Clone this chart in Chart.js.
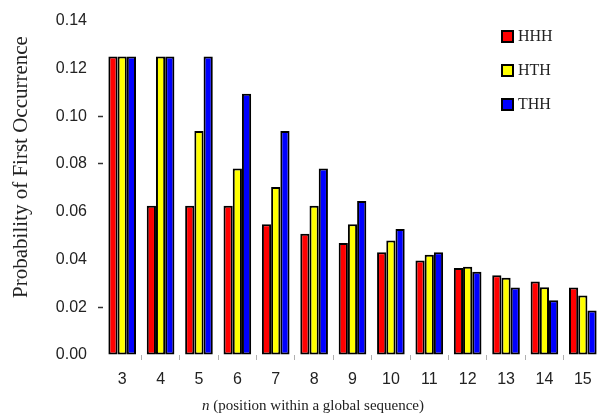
<!DOCTYPE html>
<html>
<head>
<meta charset="utf-8">
<script src="https://cdn.jsdelivr.net/npm/chart.js@4"></script>
<style>
  html, body { margin: 0; padding: 0; background: #fff; overflow: hidden; }
  #wrap { position: relative; width: 602px; height: 419px; }
</style>
</head>
<body>
<div id="wrap"><canvas id="firstChart"></canvas></div>
<script>
// Categories (n) and probabilities
const positions = ['3', '4', '5', '6', '7', '8', '9', '10', '11', '12', '13', '14', '15'];
const hhh = [0.125, 0.0625, 0.0625, 0.0625, 0.0547, 0.0508, 0.0469, 0.0430, 0.0396, 0.0364, 0.0334, 0.0308, 0.0283];
const hth = [0.125, 0.125, 0.0938, 0.0781, 0.0703, 0.0625, 0.0547, 0.0479, 0.0420, 0.0369, 0.0323, 0.0284, 0.0249];
const thh = [0.125, 0.125, 0.125, 0.1094, 0.0938, 0.0781, 0.0645, 0.0527, 0.0430, 0.0349, 0.0283, 0.0229, 0.0186];
const seriesNames = ['HHH', 'HTH', 'THH'];
const yTicks = [0, 0.02, 0.04, 0.06, 0.08, 0.10, 0.12, 0.14];
const yTitle = 'Probability of First Occurrence';
const xTitleVar = 'n';
const xTitleRest = ' (position within a global sequence)';

const colors = ['#ff0000', '#ffff00', '#0000ff'];
const dashed = [0.02, 0.08, 0.10]; // y tick dashes visible in the original

// Titles + legend drawn by hand (italic "n", off-centre placement)
const extras = {
  id: 'extras',
  afterDraw(chart) {
    const c = chart.ctx;
    c.save();
    c.fillStyle = '#222';
    c.textBaseline = 'middle';

    // y title
    c.save();
    c.translate(21, 167);
    c.rotate(-Math.PI / 2);
    c.font = '21px "Liberation Serif", "Times New Roman", serif';
    c.textAlign = 'center';
    c.fillText(yTitle, 0, 0);
    c.restore();

    // x title with italic n
    const fItal = 'italic 15px "Liberation Serif", serif';
    const fReg = '15px "Liberation Serif", serif';
    c.font = fItal;
    const w1 = c.measureText(xTitleVar).width;
    c.font = fReg;
    const w2 = c.measureText(xTitleRest).width;
    let x = 313 - (w1 + w2) / 2;
    c.textAlign = 'left';
    c.font = fItal;
    c.fillText(xTitleVar, x, 406);
    c.font = fReg;
    c.fillText(xTitleRest, x + w1, 406);

    // legend
    chart.data.datasets.forEach((ds, i) => {
      const y = 37 + i * 34;
      c.fillStyle = ds.backgroundColor;
      c.fillRect(502, y - 6, 11, 11);
      c.strokeStyle = '#000';
      c.lineWidth = 2;
      c.strokeRect(502, y - 6, 11, 11);
      c.fillStyle = '#222';
      c.font = '16px "Liberation Serif", serif';
      c.fillText(ds.label, 518, y);
    });
    c.restore();
  }
};

const ctx = document.getElementById('firstChart').getContext('2d');
new Chart(ctx, {
  type: 'bar',
  data: {
    labels: positions,
    datasets: [hhh, hth, thh].map((vals, i) => ({
      label: seriesNames[i],
      data: vals,
      backgroundColor: colors[i],
      borderColor: '#000',
      borderWidth: 2,
      borderSkipped: false,
      barPercentage: 1,
      categoryPercentage: 0.72
    }))
  },
  options: {
    responsive: true,
    maintainAspectRatio: false,
    animation: false,
    layout: { padding: { top: 14, left: 0, right: 0, bottom: 0 } },
    plugins: {
      legend: { display: false },
      tooltip: { enabled: false }
    },
    scales: {
      x: {
        afterFit(scale) { scale.height = 64; },
        border: { display: false },
        grid: {
          offset: true,
          drawOnChartArea: false,
          drawTicks: true,
          tickLength: 5,
          tickWidth: 1,
          tickColor: c => (c.index > 0 && c.index < positions.length) ? '#b0b0b0' : 'rgba(0,0,0,0)'
        },
        ticks: {
          padding: 10,
          color: '#222',
          font: { family: '"Liberation Sans", Arial, sans-serif', size: 16 },
          maxRotation: 0
        }
      },
      y: {
        min: 0,
        max: 0.14,
        afterFit(scale) { scale.width = 103; },
        afterBuildTicks(scale) { scale.ticks = yTicks.map(v => ({ value: v })); },
        border: { display: false },
        grid: {
          drawOnChartArea: false,
          drawTicks: true,
          tickLength: 5,
          tickWidth: 1.5,
          tickColor: c => (c.tick && dashed.some(d => Math.abs(d - c.tick.value) < 1e-6)) ? '#333' : 'rgba(0,0,0,0)'
        },
        ticks: {
          padding: 11,
          color: '#222',
          font: { family: '"Liberation Sans", Arial, sans-serif', size: 16 },
          callback: v => v.toFixed(2)
        }
      }
    }
  },
  plugins: [extras]
});
</script>
</body>
</html>
